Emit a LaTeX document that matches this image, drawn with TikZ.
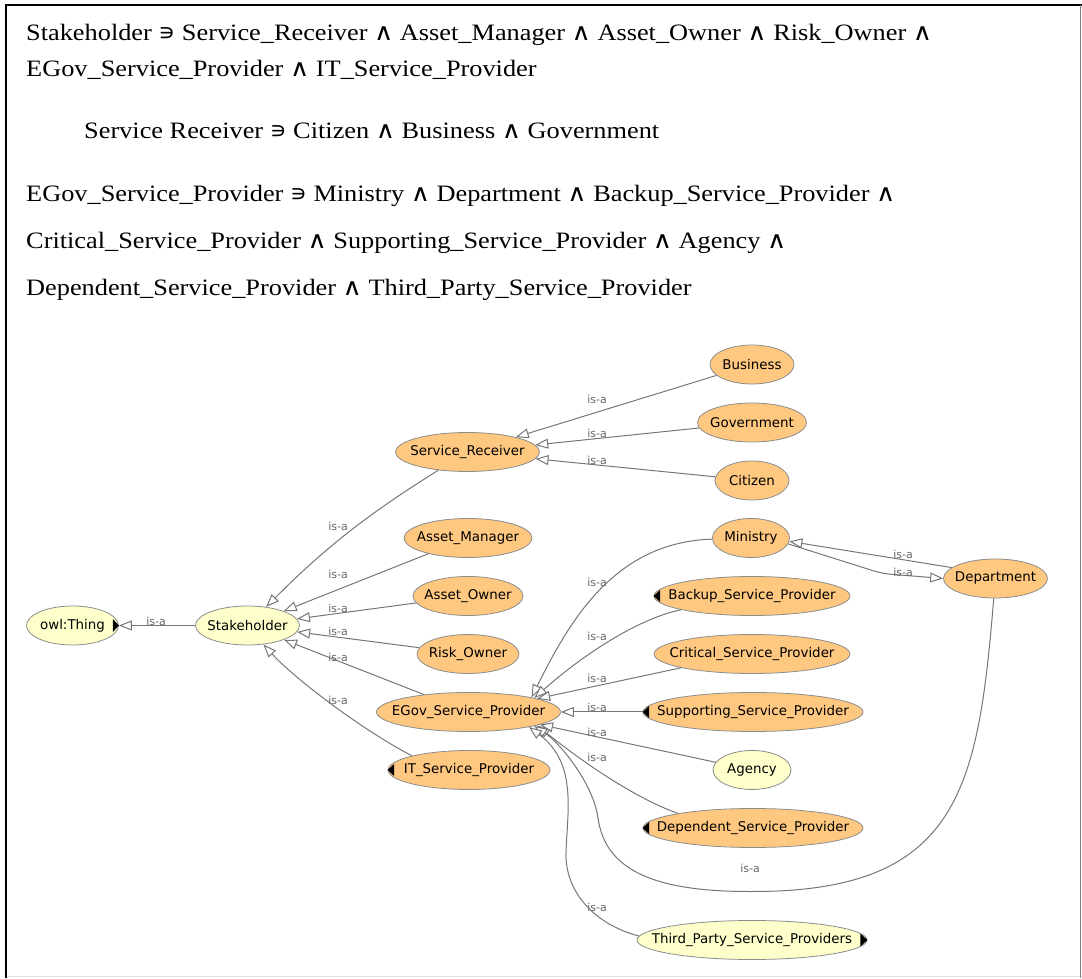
\documentclass[tikz,border=0pt]{standalone}
\usepackage{fontspec}
\setmainfont{Liberation Serif}
\newfontfamily\graphfont{DejaVu Sans}
\newfontfamily\docfont[FakeStretch=1.12]{Liberation Serif}
\newfontfamily\docsymfont[FakeStretch=1.12]{DejaVu Serif}
\newfontfamily\docmemberfont{DejaVu Sans}
\usetikzlibrary{shapes.geometric, arrows.meta}

\newcommand{\opsym}[1]{{\docsymfont #1}}
\newcommand{\memsym}{{\docmemberfont ∍}}

\definecolor{clsorange}{RGB}{255,200,128}
\definecolor{clsyellow}{RGB}{255,255,204}
\definecolor{edgegray}{RGB}{118,118,118}
\definecolor{rimgray}{RGB}{140,140,140}

\tikzset{
  cls/.style={ellipse, draw=rimgray, line width=0.8pt, minimum height=39pt,
              inner sep=0pt, fill=clsorange},
  rootcls/.style={cls, fill=clsyellow},
  cname/.style={font=\graphfont\fontsize{13.4}{15}\selectfont, inner sep=0pt},
  isa/.style={draw=edgegray, line width=1pt,
              -{Triangle[open, length=13pt, width=10pt, fill=white]}},
  isalbl/.style={font=\graphfont\fontsize{11}{12}\selectfont, text=black!60, inner sep=0pt},
  docline/.style={anchor=base west, inner sep=0pt,
                  font=\docfont\fontsize{23.5}{28}\selectfont},
}

\begin{document}
\begin{tikzpicture}[x=1pt, y=1pt]
\useasboundingbox (0,0) rectangle (1082,978);

% frame
\draw[line width=2pt] (5,973.3) -- (1082,973.3);
\draw[line width=2pt] (6,0) -- (6,974.3);
\draw[black!50, line width=1.5pt] (1080.7,0) -- (1080.7,973);
\draw[black!12, line width=1.5pt] (7,1.3) -- (1080,1.3);

% definitions text
\node[docline] (t1) at (26,937.5) {Stakeholder \memsym{} Service\_Receiver \opsym{∧} Asset\_Manager \opsym{∧} Asset\_Owner \opsym{∧} Risk\_Owner \opsym{∧}};
\node[docline] (t2) at (26,901) {EGov\_Service\_Provider \opsym{∧} IT\_Service\_Provider};
\node[docline] (t3) at (84,839.5) {Service Receiver \memsym{} Citizen \opsym{∧} Business \opsym{∧} Government};
\node[docline] (t4) at (26,776) {EGov\_Service\_Provider \memsym{} Ministry \opsym{∧} Department \opsym{∧} Backup\_Service\_Provider \opsym{∧}};
\node[docline] (t5) at (26,729.5) {Critical\_Service\_Provider \opsym{∧} Supporting\_Service\_Provider \opsym{∧} Agency \opsym{∧}};
\node[docline] (t6) at (26,682.5) {Dependent\_Service\_Provider \opsym{∧} Third\_Party\_Service\_Provider};

% classes
\node[rootcls, minimum width=92pt, label={[cname]center:owl:Thing}] (owl) at (72.5,352.5) {};
\node[rootcls, minimum width=104pt, label={[cname]center:Stakeholder}] (st) at (247.5,352.5) {};
\node[cls, minimum width=144pt, label={[cname]center:Service\_Receiver}] (sr) at (467.5,526) {};
\node[cls, minimum width=84pt, label={[cname]center:Business}] (bus) at (752,613.5) {};
\node[cls, minimum width=109pt, label={[cname]center:Government}] (gov) at (752,555.5) {};
\node[cls, minimum width=74pt, label={[cname]center:Citizen}] (cit) at (752,497.5) {};
\node[cls, minimum width=128pt, label={[cname]center:Asset\_Manager}] (am) at (468,440) {};
\node[cls, minimum width=110pt, label={[cname]center:Asset\_Owner}] (ao) at (468,382) {};
\node[cls, minimum width=102pt, label={[cname]center:Risk\_Owner}] (ro) at (468,324) {};
\node[cls, minimum width=77pt, label={[cname]center:Ministry}] (min) at (751,440) {};
\node[cls, minimum width=104pt, label={[cname]center:Department}] (dep) at (995.5,399.5) {};
\node[cls, minimum width=196pt, label={[cname]center:Backup\_Service\_Provider}] (bak) at (752,382) {};
\node[cls, minimum width=196pt, label={[cname]center:Critical\_Service\_Provider}] (cri) at (752,324) {};
\node[cls, minimum width=184pt, label={[cname]center:EGov\_Service\_Provider}] (egov) at (468.5,266) {};
\node[cls, minimum width=220pt, label={[cname]center:Supporting\_Service\_Provider}] (sup) at (753,266) {};
\node[rootcls, minimum width=78pt, label={[cname]center:Agency}] (age) at (752,208) {};
\node[cls, minimum width=162pt, label={[cname]center:IT\_Service\_Provider}] (it) at (469,208) {};
\node[cls, minimum width=220pt, label={[cname]center:Dependent\_Service\_Provider}] (dsp) at (753,150) {};
\node[rootcls, minimum width=230pt, label={[cname]center:Third\_Party\_Service\_Providers}] (tp) at (752,38) {};

% expansion markers
\fill (owl.east) -- ++(-6,6.5) -- ++(0,-13) -- cycle;
\fill (tp.east) -- ++(-7,6.5) -- ++(0,-13) -- cycle;
\fill (bak.west) -- ++(6.5,6) -- ++(0,-12) -- cycle;
\fill (sup.west) -- ++(6.5,6) -- ++(0,-12) -- cycle;
\fill (dsp.west) -- ++(6.5,6) -- ++(0,-12) -- cycle;
\fill (it.west) -- ++(6.5,6) -- ++(0,-12) -- cycle;

% is-a connectors
\draw[isa] (st) -- (owl);
\draw[isa] (sr.212) .. controls +(212:84) and +(45:84) .. (st.45);
\draw[isa] (am) -- (st);
\draw[isa] (ao) -- (st);
\draw[isa] (ro) -- (st);
\draw[isa] (egov) -- (st);
\draw[isa] (it.166) .. controls +(153:50) and +(312.5:50) .. (st.-50);

\draw[isa] (bus) -- (sr);
\draw[isa] (gov) -- (sr);
\draw[isa] (cit) -- (sr);

\draw[isa] (dep.166) -- (min.-5);
\draw[isa, rounded corners=8pt] (min.-9) -- (882,404.5) -- (dep.west);

\draw[isa] (min) .. controls (615,436) and (570,358) .. (egov.13);
\draw[isa] (bak.191) .. controls (640,360) and (585,325) .. (egov.12);
\draw[isa] (cri.191) -- (egov.11);
\draw[isa] (sup) -- (egov);
\draw[isa] (age.168) -- (egov.-10);
\draw[isa] (dsp.169) .. controls (640,178) and (590,210) .. (egov.-11);
\draw[isa] (dep.265) .. controls (978,190) and (960,86) .. (752,86.5)
           .. controls (650,86) and (605,110) .. (598,160)
           .. controls (593,195) and (560,235) .. (egov.-12);
\draw[isa] (tp.178) .. controls (590,55) and (565,90) .. (566,125)
           .. controls (567,165) and (578,215) .. (egov.-14);

% edge labels
\node[isalbl] (l-owl) at (156,357) {is-a};
\node[isalbl] (l-sr) at (338,452) {is-a};
\node[isalbl] (l-am) at (338,404) {is-a};
\node[isalbl] (l-ao) at (338,370) {is-a};
\node[isalbl] (l-ro) at (338,347) {is-a};
\node[isalbl] (l-egov) at (338,321) {is-a};
\node[isalbl] (l-it) at (338,278) {is-a};
\node[isalbl] (l-bus) at (597,579) {is-a};
\node[isalbl] (l-gov) at (597,545) {is-a};
\node[isalbl] (l-cit) at (597,518) {is-a};
\node[isalbl] (l-depmin) at (903,424) {is-a};
\node[isalbl] (l-mindep) at (903,406) {is-a};
\node[isalbl] (l-min) at (597,396) {is-a};
\node[isalbl] (l-bak) at (597,342) {is-a};
\node[isalbl] (l-cri) at (597,300) {is-a};
\node[isalbl] (l-sup) at (597,271) {is-a};
\node[isalbl] (l-age) at (597,246) {is-a};
\node[isalbl] (l-dsp) at (597,221) {is-a};
\node[isalbl] (l-dep) at (750,110) {is-a};
\node[isalbl] (l-tp) at (597,71) {is-a};
\end{tikzpicture}
\end{document}
